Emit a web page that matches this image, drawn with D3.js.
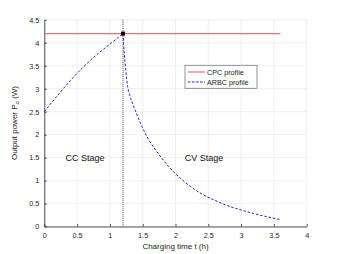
<!DOCTYPE html>
<html><head><meta charset="utf-8">
<script src="https://cdn.jsdelivr.net/npm/d3@7"></script>
<style>body{margin:0;background:#fff}svg{display:block}text{font-family:"Liberation Sans",Arial,sans-serif}</style>
</head><body><svg id="c" width="339" height="254"></svg>
<script>
const xTicks=[0,0.5,1,1.5,2,2.5,3,3.5,4];
const yTicks=[0,0.5,1,1.5,2,2.5,3,3.5,4,4.5];
const cpcT=[0,3.6];
const cpcP=[4.2,4.2];
const ccT=[0,0.2,0.4,0.6,0.8,1.0,1.2];
const ccP=[2.5,2.85,3.18,3.48,3.74,3.97,4.2];
const cvT=[1.2,1.22,1.24,1.27,1.3,1.35,1.4,1.5,1.6,1.7,1.8,1.9,2.0,2.2,2.4,2.6,2.8,3.0,3.2,3.4,3.6];
const cvP=[4.2,3.75,3.42,3.05,2.87,2.66,2.48,2.14,1.87,1.66,1.47,1.30,1.15,0.90,0.71,0.57,0.45,0.36,0.28,0.21,0.15];
const switchT=1.2, switchP=4.2;

const svg=d3.select("#c");
const x=d3.scaleLinear().domain([0,4]).range([44.3,306.7]);
const y=d3.scaleLinear().domain([0,4.5]).range([226.5,19.8]);
const axCol="#262626";

// grid
svg.append("g").selectAll("line").data(xTicks).join("line")
 .attr("x1",d=>x(d)).attr("x2",d=>x(d)).attr("y1",y(0)).attr("y2",y(4.5))
 .attr("stroke","#ebebeb").attr("stroke-width",0.8);
svg.append("g").selectAll("line").data(yTicks).join("line")
 .attr("y1",d=>y(d)).attr("y2",d=>y(d)).attr("x1",x(0)).attr("x2",x(4))
 .attr("stroke","#ebebeb").attr("stroke-width",0.8);

// axes
const xa=svg.append("g").attr("transform",`translate(0,${y(0)})`)
 .call(d3.axisBottom(x).tickValues(xTicks).tickSizeInner(-2.5).tickSizeOuter(0).tickPadding(6).tickFormat(d3.format("")));
const ya=svg.append("g").attr("transform",`translate(${x(0)},0)`)
 .call(d3.axisLeft(y).tickValues(yTicks).tickSizeInner(-2.5).tickSizeOuter(0).tickPadding(5).tickFormat(d3.format("")));
[xa,ya].forEach(g=>{g.select(".domain").attr("stroke",axCol).attr("stroke-width",0.8);
 g.selectAll(".tick line").attr("stroke",axCol).attr("stroke-width",0.8);
 g.selectAll("text").attr("fill",axCol).attr("font-size",7.3).style("font-family",'"Liberation Sans",Arial,sans-serif');});

const line=d3.line().x(d=>x(d[0])).y(d=>y(d[1])).curve(d3.curveMonotoneX);
const flat=d3.line().x(d=>x(d[0])).y(d=>y(d[1]));
// CPC
svg.append("path").attr("d",flat(d3.zip(cpcT,cpcP))).attr("fill","none").attr("stroke","#f07070").attr("stroke-width",1.3);
// vertical dotted
svg.append("line").attr("x1",x(switchT)).attr("x2",x(switchT)).attr("y1",y(4.5)).attr("y2",y(0))
 .attr("stroke","#555").attr("stroke-width",1.1).attr("stroke-dasharray","1,1");
// ARBC
svg.append("path").attr("d",line(d3.zip(ccT,ccP))).attr("fill","none").attr("stroke","#2020ff").attr("stroke-width",1).attr("stroke-dasharray","2.5,1.8");
svg.append("path").attr("d",line(d3.zip(cvT,cvP))).attr("fill","none").attr("stroke","#2020ff").attr("stroke-width",1).attr("stroke-dasharray","2.5,1.8");
// marker
svg.append("rect").attr("x",x(switchT)-2).attr("y",y(switchP)-2).attr("width",4).attr("height",4).attr("fill","#000");

// stage labels
svg.append("text").attr("x",85).attr("y",160.5).attr("text-anchor","middle").attr("font-size",9).attr("fill","#111").text("CC Stage");
svg.append("text").attr("x",204).attr("y",160.5).attr("text-anchor","middle").attr("font-size",9).attr("fill","#111").text("CV Stage");

// legend
const lg=svg.append("g");
lg.append("rect").attr("x",185).attr("y",65.3).attr("width",72).attr("height",23).attr("fill","#fff").attr("stroke","#777").attr("stroke-width",0.8);
lg.append("line").attr("x1",188).attr("x2",205).attr("y1",72).attr("y2",72).attr("stroke","#f07070").attr("stroke-width",1.2);
lg.append("line").attr("x1",188).attr("x2",205).attr("y1",82).attr("y2",82).attr("stroke","#2020ff").attr("stroke-width",1).attr("stroke-dasharray","2.5,1.5");
lg.append("text").attr("x",207).attr("y",74.6).attr("font-size",7.2).attr("fill","#222").text("CPC profile");
lg.append("text").attr("x",207).attr("y",84.6).attr("font-size",7.2).attr("fill","#222").text("ARBC profile");

// axis labels
svg.append("text").attr("x",175.5).attr("y",249).attr("text-anchor","middle").attr("font-size",8).attr("fill","#222").text("Charging time t (h)");
const yl=svg.append("text").attr("transform","translate(16.5,123) rotate(-90)").attr("text-anchor","middle").attr("font-size",8).attr("fill","#222");
yl.append("tspan").text("Output power P");
yl.append("tspan").attr("font-size",6).attr("dy",2).text("o");
yl.append("tspan").attr("dy",-2).text(" (W)");
</script></body></html>
